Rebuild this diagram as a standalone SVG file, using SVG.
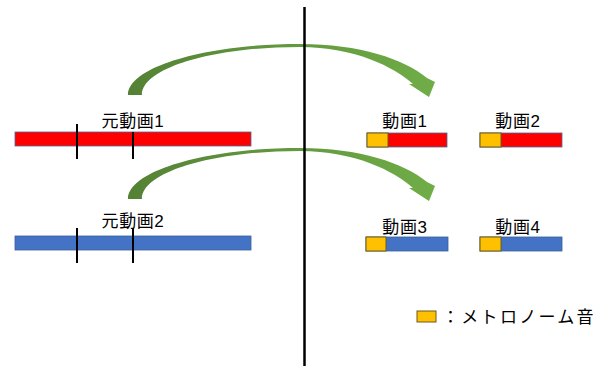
<svg xmlns="http://www.w3.org/2000/svg" width="602" height="369" viewBox="0 0 602 369">
<defs>
<linearGradient id="g" x1="128" y1="0" x2="436" y2="0" gradientUnits="userSpaceOnUse">
<stop offset="0" stop-color="#548235"/>
<stop offset="1" stop-color="#70AD47"/>
</linearGradient>
<path id="arr" d="M128 95 C128 67 205 44 300 44 C360 44 404 59 427 78 L435 82 L429 97 L409 84 L413 84 C394 67 355 47 300 47 C213 47 142 68 142 95 Z"/>
</defs>
<style>
text{font-family:"Liberation Sans","Noto Sans CJK JP",sans-serif;font-size:17px;fill:#000;letter-spacing:0.6px}
text.leg{letter-spacing:2.3px}
.red{fill:#FF0000;stroke:#4A6A9A;stroke-width:0.8}
.blue{fill:#4472C4;stroke:#3A5F9F;stroke-width:0.8}
.yel{fill:#FFC000;stroke:#6B5A1E;stroke-width:1}
.tick{stroke:#000;stroke-width:2}
</style>
<g id="connectors">
<use href="#arr" fill="url(#g)"/>
<use href="#arr" fill="url(#g)" transform="translate(0,104)"/>
</g>
<g id="divider"><line x1="304.5" y1="7" x2="304.5" y2="366" stroke="#000" stroke-width="2.5"/></g>
<g id="src1">
<text x="133" y="127" text-anchor="middle">元動画1</text>
<rect class="red" x="15" y="132" width="236" height="14"/>
<line class="tick" x1="77" y1="124" x2="77" y2="159"/>
<line class="tick" x1="133" y1="132" x2="133" y2="159"/>
</g>
<g id="src2">
<text x="133" y="227" text-anchor="middle">元動画2</text>
<rect class="blue" x="15" y="236" width="236" height="14"/>
<line class="tick" x1="77" y1="228" x2="77" y2="263"/>
<line class="tick" x1="133" y1="228" x2="133" y2="263"/>
</g>
<g id="v1">
<text x="405" y="127" text-anchor="middle">動画1</text>
<rect class="red" x="367" y="133" width="80" height="14"/>
<rect class="yel" x="367" y="133" width="21" height="14"/>
</g>
<g id="v2">
<text x="518" y="127" text-anchor="middle">動画2</text>
<rect class="red" x="480" y="133" width="82" height="14"/>
<rect class="yel" x="480" y="133" width="21" height="14"/>
</g>
<g id="v3">
<text x="405" y="233" text-anchor="middle">動画3</text>
<rect class="blue" x="366" y="237" width="82" height="14"/>
<rect class="yel" x="366" y="237" width="20" height="14"/>
</g>
<g id="v4">
<text x="518" y="233" text-anchor="middle">動画4</text>
<rect class="blue" x="480" y="237" width="82" height="14"/>
<rect class="yel" x="480" y="237" width="21" height="14"/>
</g>
<g id="legend">
<rect class="yel" x="417" y="311" width="19" height="11"/>
<text class="leg" x="442" y="323">：メトロノーム音</text>
</g>
</svg>
